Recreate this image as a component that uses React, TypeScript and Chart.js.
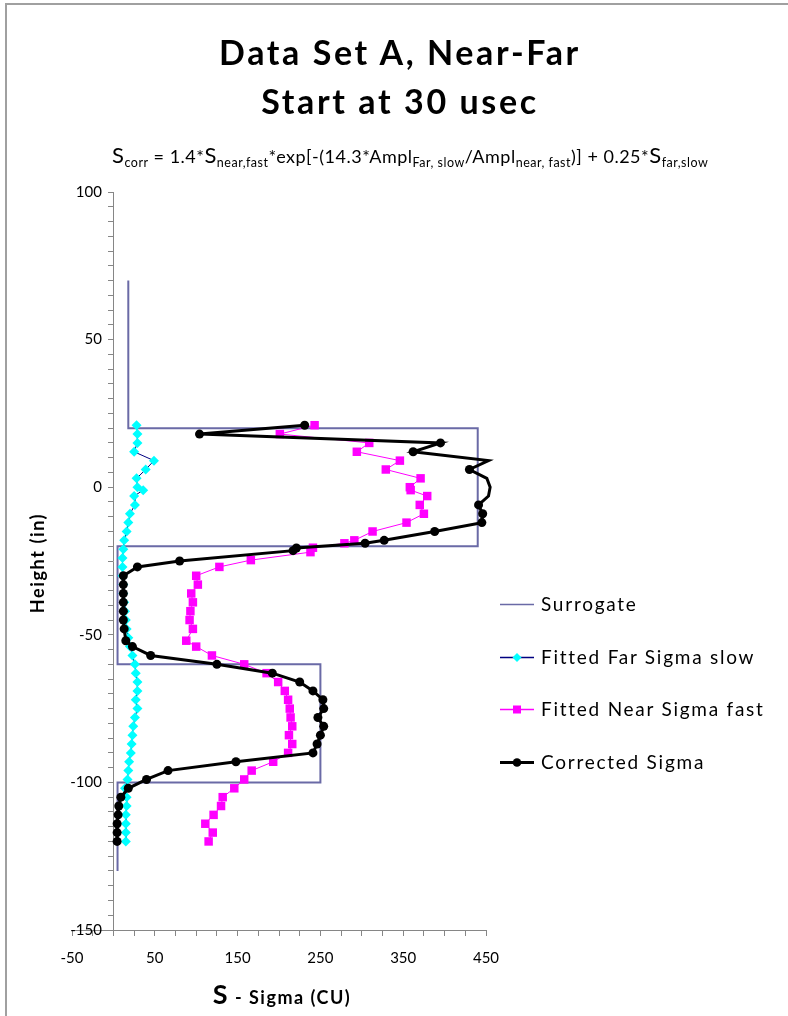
import React, { useEffect, useRef } from 'react';
import { Chart, registerables } from 'chart.js';

Chart.register(...registerables);

// Surrogate profile (sigma, height)
const surrogateSigma = [18, 18, 440, 440, 5, 5, 250, 250, 5, 5];
const surrogateHeight = [70, 20, 20, -20, -20, -60, -60, -100, -100, -130];

// Fitted Far Sigma slow
const farHeight = [21, 18, 15, 12, 9, 6, 3, 0, -1, -3, -6, -9, -12, -15, -18, -21, -24, -27, -30, -33, -36, -39, -42, -45, -48, -51, -54, -57, -60, -63, -66, -69, -72, -75, -78, -81, -84, -87, -90, -93, -96, -99, -102, -105, -108, -111, -114, -117, -120];
const farSigma = [28, 29, 29, 25, 49, 39, 28, 29, 36, 25, 26, 20, 18, 16, 13, 12, 11, 11, 11, 12, 12, 13, 14, 15, 16, 18, 20, 23, 26, 27, 29, 29, 27, 29, 26, 24, 23, 22, 21, 19, 18, 17, 14, 16, 16, 15, 15, 15, 15];

// Fitted Near Sigma fast
const nearHeight = [21, 18, 15, 12, 9, 6, 3, 0, -1, -3, -6, -9, -12, -15, -18, -19, -20.5, -22, -24.7, -27, -30, -33, -36, -39, -42, -45, -48, -52, -54, -57, -60, -63, -66, -69, -72, -75, -78, -81, -84, -87, -90, -93, -96, -99, -102, -105, -108, -111, -114, -117, -120];
const nearSigma = [243, 201, 309, 294, 346, 329, 371, 358, 359, 379, 370, 375, 354, 313, 291, 279, 241, 238, 166, 128, 100, 102, 94, 96, 93, 92, 96, 88, 100, 119, 158, 185, 199, 207, 211, 213, 214, 216, 212, 216, 211, 193, 167, 158, 146, 132, 130, 121, 111, 120, 115];

// Corrected Sigma
const corrHeight = [21, 18, 15, 12, 9, 6, 3, 0, -3, -6, -9, -12, -15, -18, -19, -20.6, -21.5, -25, -27, -30, -33, -36, -39, -42, -45, -48, -52, -54, -57, -60, -63, -66, -69, -72, -75, -78, -81, -84, -87, -90, -93, -96, -99, -102, -105, -108, -111, -114, -117, -120];
const corrSigma = [231, 104, 395, 362, 453, 430, 451, 455, 453, 441, 446, 445, 388, 327, 304, 221, 217, 80, 29, 12, 12, 12, 12, 12, 12, 13, 15, 23, 45, 125, 192, 225, 241, 253, 254, 247, 254, 250, 246, 241, 148, 66, 40, 18, 9, 6.5, 5.7, 4.5, 4.5, 4.5];

const yLabelValues = [100, 50, 0, -50, -100, -150];
const xLabelValues = [-50, 50, 150, 250, 350, 450];

const FONT = 'Lato, "Noto Sans", sans-serif';

const pts = (xs: number[], ys: number[]) => xs.map((x, i) => ({ x, y: ys[i] }));

function LegendRow({ top, label, kind }: { top: number; label: string; kind: string }) {
  let line = '#6a6aa6';
  let lw = 1.5;
  let marker: React.ReactNode = null;
  if (kind === 'far') {
    line = '#000080'; lw = 1.5;
    marker = <polygon points="17,2 21.5,6.5 17,11 12.5,6.5" fill="#00ffff" />;
  } else if (kind === 'near') {
    line = '#ff00ff'; lw = 1.5;
    marker = <rect x="13" y="2.5" width="8" height="8" fill="#ff00ff" />;
  } else if (kind === 'corr') {
    line = '#000000'; lw = 3;
    marker = <circle cx="17" cy="6.5" r="4.3" fill="#000" />;
  }
  return (
    <div style={{ position: 'absolute', left: 500, top: top - 7, height: 14, display: 'flex', alignItems: 'center' }}>
      <svg width="34" height="13" style={{ display: 'block' }}>
        <line x1="0" y1="6.5" x2="34" y2="6.5" stroke={line} strokeWidth={lw} />
        {marker}
      </svg>
      <span style={{ marginLeft: 7, font: `19px ${FONT}`, letterSpacing: '1.75px', color: '#000', whiteSpace: 'nowrap', lineHeight: '14px' }}>{label}</span>
    </div>
  );
}

export default function App() {
  const ref = useRef<HTMLCanvasElement>(null);

  useEffect(() => {
    document.body.style.margin = '0';
    document.body.style.overflow = 'hidden';
    const chart = new Chart(ref.current!, {
      type: 'scatter',
      data: {
        datasets: [
          {
            label: 'Surrogate',
            data: pts(surrogateSigma, surrogateHeight),
            showLine: true,
            borderColor: '#6a6aa6',
            borderWidth: 2,
            pointRadius: 0,
            order: 4,
          },
          {
            label: 'Fitted Far Sigma slow',
            data: pts(farSigma, farHeight),
            showLine: true,
            borderColor: '#000080',
            borderWidth: 1,
            pointStyle: 'rectRot',
            pointRadius: 5,
            pointBackgroundColor: '#00ffff',
            pointBorderColor: '#00ffff',
            pointBorderWidth: 0,
            order: 3,
          },
          {
            label: 'Fitted Near Sigma fast',
            data: pts(nearSigma, nearHeight),
            showLine: true,
            borderColor: '#ff00ff',
            borderWidth: 1,
            pointStyle: 'rect',
            pointRadius: 6,
            pointBackgroundColor: '#ff00ff',
            pointBorderColor: '#ff00ff',
            pointBorderWidth: 0,
            order: 2,
          },
          {
            label: 'Corrected Sigma',
            data: pts(corrSigma, corrHeight),
            showLine: true,
            borderColor: '#000000',
            borderWidth: 3,
            pointStyle: 'circle',
            pointRadius: (c: any) => (c.raw && c.raw.x > 450 ? 0 : 4.5),
            pointBackgroundColor: '#000000',
            pointBorderColor: '#000000',
            pointBorderWidth: 0,
            clip: 8,
            order: 1,
          } as any,
        ],
      },
      options: {
        animation: false,
        responsive: false,
        events: [],
        layout: { padding: { left: 72, top: 192, right: 302, bottom: 86 } },
        plugins: { legend: { display: false }, tooltip: { enabled: false }, title: { display: false } },
        scales: {
          x: {
            type: 'linear',
            position: { y: -150 } as any,
            min: -50,
            max: 450,
            grid: { display: true, drawOnChartArea: false, drawTicks: true, tickLength: 5, color: '#868686' },
            border: { display: true, color: '#868686', width: 1 },
            ticks: {
              stepSize: 25,
              autoSkip: false,
              maxRotation: 0,
              maxTicksLimit: 100,
              padding: 14,
              color: '#000',
              font: { family: FONT, size: 15 },
              callback: (v: any) => (xLabelValues.includes(Number(v)) ? String(v) : ''),
            },
          },
          y: {
            type: 'linear',
            position: { x: 0 } as any,
            min: -150,
            max: 100,
            grid: { display: true, drawOnChartArea: false, drawTicks: true, tickLength: 5, color: '#868686' },
            border: { display: true, color: '#868686', width: 1 },
            ticks: {
              stepSize: 5,
              autoSkip: false,
              maxTicksLimit: 100,
              padding: 7,
              color: '#000',
              font: { family: FONT, size: 15 },
              callback: (v: any) => (yLabelValues.includes(Number(v)) ? String(v) + '   ' : ''),
            },
          },
        },
      },
    });
    return () => chart.destroy();
  }, []);

  const sub = { fontSize: 12.5, verticalAlign: '-4px' } as React.CSSProperties;
  const bigS = { fontSize: 22 } as React.CSSProperties;

  return (
    <div style={{ position: 'absolute', left: 0, top: 0, width: 788, height: 1016, overflow: 'hidden', background: '#fff' }}>
      <canvas ref={ref} width={788} height={1016} style={{ position: 'absolute', left: 0, top: 0, width: 788, height: 1016 }} />
      <div style={{ position: 'absolute', left: 5, top: 3, width: 800, height: 1030, border: '2px solid #a0a0a0', boxSizing: 'border-box', pointerEvents: 'none' }} />
      <div style={{ position: 'absolute', left: 0, width: 800, top: 27, textAlign: 'center', font: `bold 34px ${FONT}`, letterSpacing: '2.6px', lineHeight: '49px', color: '#000' }}>
        <div>Data Set A, Near-Far</div>
        <div>Start at 30 usec</div>
      </div>
      <div style={{ position: 'absolute', left: 112, top: 144, whiteSpace: 'nowrap', font: `18px ${FONT}`, letterSpacing: '0.5px', color: '#000', lineHeight: '22px' }}>
        <span style={bigS}>S</span><span style={sub}>corr</span> = 1.4*<span style={bigS}>S</span><span style={sub}>near,fast</span>*exp[-(14.3*Ampl<span style={sub}>Far, slow</span>/Ampl<span style={sub}>near, fast</span>)] + 0.25*<span style={bigS}>S</span><span style={sub}>far,slow</span>
      </div>
      <div style={{ position: 'absolute', left: 37, top: 563, width: 0, height: 0 }}>
        <div style={{ position: 'absolute', left: -100, top: -12, width: 200, textAlign: 'center', transform: 'rotate(-90deg)', font: `bold 18px ${FONT}`, letterSpacing: '1.6px', lineHeight: '24px', whiteSpace: 'nowrap' }}>Height (in)</div>
      </div>
      <div style={{ position: 'absolute', left: 182, width: 200, top: 978, textAlign: 'center', whiteSpace: 'nowrap', font: `bold 18px ${FONT}`, letterSpacing: '1.5px', lineHeight: '32px' }}>
        <span style={{ fontSize: 27 }}>S</span> - Sigma (CU)
      </div>
      <LegendRow top={604} label="Surrogate" kind="sur" />
      <LegendRow top={657} label="Fitted Far Sigma slow" kind="far" />
      <LegendRow top={709} label="Fitted Near Sigma fast" kind="near" />
      <LegendRow top={762} label="Corrected Sigma" kind="corr" />
    </div>
  );
}
